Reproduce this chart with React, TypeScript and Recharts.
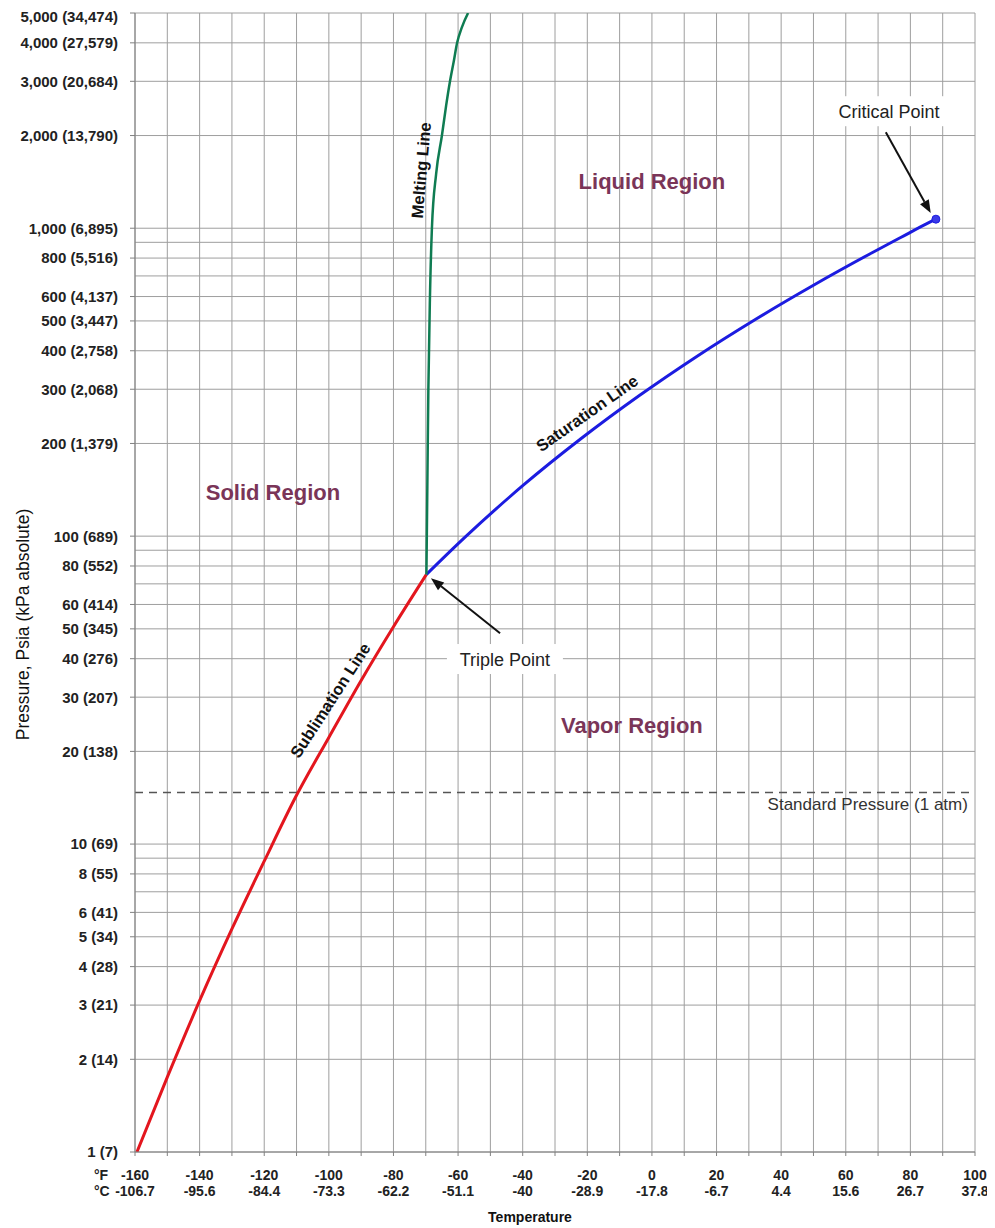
import React from "react";
import {
  LineChart,
  Line,
  XAxis,
  YAxis,
  CartesianGrid,
  ReferenceLine,
  ReferenceDot,
  Label,
} from "recharts";

const FONT = "'Liberation Sans', Arial, sans-serif";

// sublimation line (°F, psia)
const SUB_T = [-159.4, -150, -140, -130, -120, -110, -100, -90, -80, -69.8];
const SUB_P = [1.0, 1.75, 3.1, 5.3, 8.8, 14.4, 22.2, 34, 50.8, 75.1];

// saturation line, triple point -> critical point
const SAT_T = [-69.8, -58, -40, -22, -4, 14, 32, 50, 68, 77, 86, 87.9];
const SAT_P = [75.1, 98.9, 145.8, 207.1, 285.7, 384.2, 505.5, 653, 831, 933, 1046, 1070];

// melting line
const MELT_T = [-69.8, -69.5, -69.2, -68.7, -68.1, -66.8, -65.0, -63.7, -62.5, -61.3, -60.3, -58.8, -56.9];
const MELT_P = [75.1, 150, 300, 600, 1000, 1500, 2000, 2500, 3000, 3500, 4000, 4500, 5000];

const CRITICAL = { t: 87.9, p: 1070 };
const STD_PRESSURE = 14.7;

const X_GRID = [
  -160, -150, -140, -130, -120, -110, -100, -90, -80, -70, -60, -50, -40, -30,
  -20, -10, 0, 10, 20, 30, 40, 50, 60, 70, 80, 90, 100,
];
const F_TICKS = [-160, -140, -120, -100, -80, -60, -40, -20, 0, 20, 40, 60, 80, 100];
const C_TICKS = [
  "-106.7", "-95.6", "-84.4", "-73.3", "-62.2", "-51.1", "-40",
  "-28.9", "-17.8", "-6.7", "4.4", "15.6", "26.7", "37.8",
];

const Y_GRID = [
  1, 2, 3, 4, 5, 6, 7, 8, 9, 10, 20, 30, 40, 50, 60, 70, 80, 90, 100, 200, 300,
  400, 500, 600, 700, 800, 900, 1000, 2000, 3000, 4000, 5000,
];
const Y_PSIA = [1, 2, 3, 4, 5, 6, 8, 10, 20, 30, 40, 50, 60, 80, 100, 200, 300, 400, 500, 600, 800, 1000, 2000, 3000, 4000, 5000];
const Y_KPA = [7, 14, 21, 28, 34, 41, 55, 69, 138, 207, 276, 345, 414, 552, 689, 1379, 2068, 2758, 3447, 4137, 5516, 6895, 13790, 20684, 27579, 34474];

const subData = SUB_T.map((t, i) => ({ t, p: SUB_P[i] }));
const satData = SAT_T.map((t, i) => ({ t, p: SAT_P[i] }));
const meltData = MELT_T.map((t, i) => ({ t, p: MELT_P[i] }));

const fmt = (n: number) => n.toLocaleString("en-US");

function XTick({ x, y, payload }: any) {
  const v = payload.value;
  const i = F_TICKS.indexOf(v);
  const style = { fontFamily: FONT, fontSize: 14, fontWeight: 700, fill: "#222" };
  return (
    <g>
      <line x1={x} x2={x} y1={y} y2={y + 4} stroke="#808080" />
      {i >= 0 && (
        <>
          <text x={x} y={y + 28} textAnchor="middle" style={style}>{v}</text>
          <text x={x} y={y + 44} textAnchor="middle" style={style}>{C_TICKS[i]}</text>
        </>
      )}
      {v === -160 && (
        <>
          <text x={x - 41} y={y + 28} style={style}>°F</text>
          <text x={x - 41} y={y + 44} style={style}>°C</text>
        </>
      )}
    </g>
  );
}

function YTick({ x, y, payload }: any) {
  const i = Y_PSIA.indexOf(payload.value);
  if (i < 0) return <g />;
  // the top label sits a little lower so it stays inside the page
  const shift = i === Y_PSIA.length - 1 ? 4 : 0;
  return (
    <g>
      <line x1={x - 5} x2={x} y1={y} y2={y} stroke="#808080" />
      <text
        x={x - 17}
        y={y + shift}
        dy="0.36em"
        textAnchor="end"
        style={{ fontFamily: FONT, fontSize: 15, fontWeight: 700, fill: "#222" }}
      >
        {`${fmt(Y_PSIA[i])} (${fmt(Y_KPA[i])})`}
      </text>
    </g>
  );
}

const regionText = (label: string) => (p: any) => (
  <text
    x={p.cx}
    y={p.cy}
    dy="0.36em"
    textAnchor="middle"
    style={{ fontFamily: FONT, fontSize: 22, fontWeight: 700, fill: "#7a3558" }}
  >
    {label}
  </text>
);

const lineText = (label: string, angle: number) => (p: any) => (
  <text
    x={p.cx}
    y={p.cy}
    dy="0.36em"
    textAnchor="middle"
    transform={`rotate(${angle} ${p.cx} ${p.cy})`}
    style={{ fontFamily: FONT, fontSize: 16.5, fontWeight: 700, fill: "#111" }}
  >
    {label}
  </text>
);

const boxText = (label: string, w: number) => (p: any) => (
  <g>
    <rect x={p.cx - w / 2} y={p.cy - 15} width={w} height={30} fill="#fff" />
    <text
      x={p.cx}
      y={p.cy}
      dy="0.36em"
      textAnchor="middle"
      style={{ fontFamily: FONT, fontSize: 18, fill: "#222" }}
    >
      {label}
    </text>
  </g>
);

function Arrow(p: any) {
  const { x1, y1, x2, y2 } = p;
  const a = Math.atan2(y2 - y1, x2 - x1);
  const len = 13;
  const half = 5;
  const bx = x2 - len * Math.cos(a);
  const by = y2 - len * Math.sin(a);
  const nx = -Math.sin(a) * half;
  const ny = Math.cos(a) * half;
  return (
    <g>
      <line x1={x1} y1={y1} x2={bx} y2={by} stroke="#111" strokeWidth={2} />
      <polygon points={`${x2},${y2} ${bx + nx},${by + ny} ${bx - nx},${by - ny}`} fill="#111" />
    </g>
  );
}

function YTitle({ viewBox }: any) {
  const cx = viewBox.x + 15;
  const cy = viewBox.y + viewBox.height / 2 + 42;
  return (
    <text
      x={cx}
      y={cy}
      textAnchor="middle"
      dy="0.36em"
      transform={`rotate(-90 ${cx} ${cy})`}
      style={{ fontFamily: FONT, fontSize: 17.5, fill: "#111" }}
    >
      Pressure, Psia (kPa absolute)
    </text>
  );
}

function XTitle({ viewBox }: any) {
  return (
    <text
      x={viewBox.x + viewBox.width / 2 - 25}
      y={viewBox.y + 70}
      textAnchor="middle"
      style={{ fontFamily: FONT, fontSize: 14, fontWeight: 700, fill: "#111" }}
    >
      Temperature
    </text>
  );
}

export default function App() {
  return (
    <div style={{ width: 987, height: 1220, background: "#fff" }}>
      <LineChart
        width={987}
        height={1220}
        margin={{ top: 5, right: 20, bottom: 16, left: 0 }}
      >
        <CartesianGrid stroke="#9e9e9e" strokeWidth={1} />
        <XAxis
          type="number"
          dataKey="t"
          domain={[-160, 100]}
          ticks={X_GRID}
          interval={0}
          allowDataOverflow
          height={60}
          tickSize={0}
          tickMargin={0}
          tick={<XTick />}
          axisLine={{ stroke: "#808080" }}
        >
          <Label content={<XTitle />} />
        </XAxis>
        <YAxis
          type="number"
          dataKey="p"
          scale="log"
          domain={[1, 5000]}
          ticks={Y_GRID}
          interval={0}
          allowDataOverflow
          width={127}
          tickSize={0}
          tickMargin={0}
          tick={<YTick />}
          axisLine={{ stroke: "#808080" }}
        >
          <Label content={<YTitle />} />
        </YAxis>

        <ReferenceLine
          y={STD_PRESSURE}
          stroke="#555"
          strokeWidth={1.5}
          strokeDasharray="8 6"
        />

        <Line data={subData} dataKey="p" type="monotone" stroke="#e3161e" strokeWidth={3} dot={false} isAnimationActive={false} />
        <Line data={satData} dataKey="p" type="monotone" stroke="#1c1ce0" strokeWidth={3} dot={false} isAnimationActive={false} />
        <Line data={meltData} dataKey="p" type="monotone" stroke="#0f7c52" strokeWidth={2.5} dot={false} isAnimationActive={false} />

        <ReferenceDot x={CRITICAL.t} y={CRITICAL.p} r={4} fill="#3a3ae8" stroke="#1c1ce0" />

        <ReferenceDot x={0} y={1421} r={0} shape={regionText("Liquid Region")} />
        <ReferenceDot x={-117.3} y={139} r={0} shape={regionText("Solid Region")} />
        <ReferenceDot x={-6.2} y={24.3} r={0} shape={regionText("Vapor Region")} />

        <ReferenceDot x={-71.5} y={1543} r={0} shape={lineText("Melting Line", -85)} />
        <ReferenceDot x={-20.1} y={251} r={0} shape={lineText("Saturation Line", -35)} />
        <ReferenceDot x={-99.6} y={29.3} r={0} shape={lineText("Sublimation Line", -57)} />

        <ReferenceLine segment={[{ x: 72.4, y: 2050 }, { x: 86.3, y: 1120 }]} shape={<Arrow />} />
        <ReferenceLine segment={[{ x: -47.0, y: 48.4 }, { x: -68.4, y: 73.0 }]} shape={<Arrow />} />

        <ReferenceDot x={73.4} y={2399} r={0} shape={boxText("Critical Point", 128)} />
        <ReferenceDot x={-45.5} y={39.9} r={0} shape={boxText("Triple Point", 116)} />

        <ReferenceDot
          x={97.8}
          y={STD_PRESSURE}
          r={0}
          shape={(p: any) => (
            <text
              x={p.cx}
              y={p.cy + 17}
              textAnchor="end"
              style={{ fontFamily: FONT, fontSize: 17, fill: "#333" }}
            >
              Standard Pressure (1 atm)
            </text>
          )}
        />
      </LineChart>
    </div>
  );
}
